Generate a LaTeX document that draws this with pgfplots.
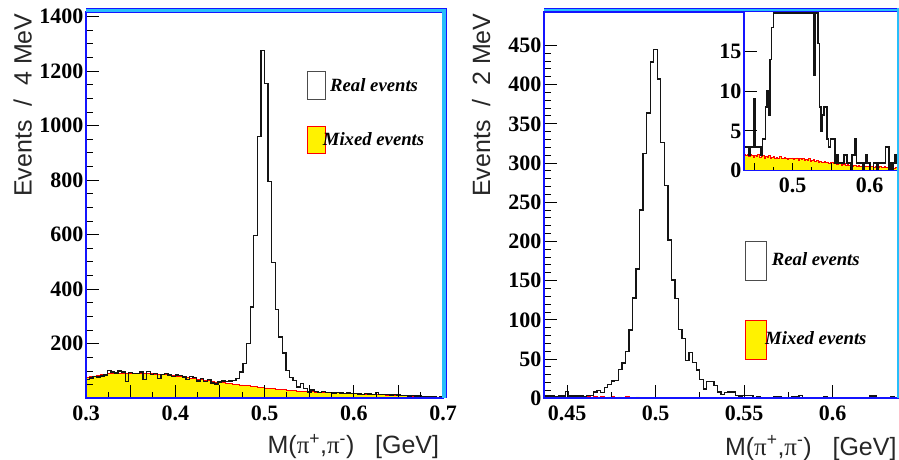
\documentclass[border=0pt]{standalone}
\usepackage{pgfplots}
\pgfplotsset{compat=1.18}
\usepackage{pgfplotstable}
\usepackage{fontspec}
\setmainfont{Liberation Serif}
\setsansfont{Liberation Sans}
\definecolor{frameblue}{RGB}{20,20,255}
\definecolor{framecyan}{RGB}{40,190,250}
\definecolor{histline}{RGB}{20,20,20}

\pgfplotstableread{
x y
0.300 68
0.304 75
0.308 80
0.312 78
0.316 82
0.320 85
0.324 102
0.328 96
0.332 93
0.336 100
0.340 96
0.344 62
0.348 95
0.352 92
0.356 90
0.360 97
0.364 70
0.368 98
0.372 88
0.376 90
0.380 72
0.384 88
0.388 92
0.392 85
0.396 80
0.400 86
0.404 83
0.408 78
0.412 70
0.416 80
0.420 76
0.424 64
0.428 72
0.432 62
0.436 68
0.440 56
0.444 52
0.448 60
0.452 63
0.456 62
0.460 64
0.464 66
0.468 72
0.472 97
0.476 127
0.480 201
0.484 335
0.488 598
0.492 959
0.496 1275
0.500 1155
0.504 794
0.508 497
0.512 326
0.516 225
0.520 166
0.524 103
0.528 76
0.532 66
0.536 42
0.540 54
0.544 36
0.548 23
0.552 30
0.556 24
0.560 22
0.564 25
0.568 21
0.572 22
0.576 20
0.580 22
0.584 19
0.588 18
0.592 20
0.596 17
0.600 18
0.604 16
0.608 15
0.612 17
0.616 16
0.620 15
0.624 22
0.628 14
0.632 15
0.636 13
0.640 12
0.644 14
0.648 12
0.652 11
0.656 10
0.660 9
0.664 10
0.668 8
0.672 9
0.676 7
0.680 6
0.684 7
0.688 5
0.692 4
0.696 5
0.700 5
}\leftreal

\pgfplotstableread{
x y
0.300 78
0.304 80
0.308 82
0.312 84
0.316 86
0.320 88
0.324 90
0.328 91
0.332 91
0.336 92
0.340 92
0.344 92
0.348 93
0.352 92
0.356 92
0.360 91
0.364 91
0.368 90
0.372 90
0.376 89
0.380 88
0.384 87
0.388 86
0.392 84
0.396 83
0.400 81
0.404 79
0.408 78
0.412 76
0.416 74
0.420 72
0.424 70
0.428 68
0.432 66
0.436 64
0.440 62
0.444 60
0.448 58
0.452 57
0.456 55
0.460 54
0.464 52
0.468 50
0.472 49
0.476 47
0.480 46
0.484 44
0.488 43
0.492 41
0.496 40
0.500 38
0.504 37
0.508 35
0.512 34
0.516 33
0.520 31
0.524 30
0.528 29
0.532 28
0.536 27
0.540 26
0.544 25
0.548 24
0.552 24
0.556 23
0.560 22
0.564 22
0.568 21
0.572 21
0.576 20
0.580 20
0.584 19
0.588 19
0.592 18
0.596 18
0.600 17
0.604 17
0.608 16
0.612 16
0.616 15
0.620 15
0.624 14
0.628 13
0.632 13
0.636 12
0.640 12
0.644 11
0.648 11
0.652 10
0.656 9
0.660 9
0.664 8
0.668 8
0.672 7
0.676 7
0.680 6
0.684 6
0.688 5
0.692 5
0.696 4
0.700 4
}\leftmixed

\pgfplotstableread{
x y
0.437 3
0.439 3
0.441 3
0.443 2
0.445 3
0.447 3
0.449 9
0.451 3
0.453 3
0.455 3
0.457 3
0.459 2
0.461 4
0.463 4
0.465 8
0.467 10
0.469 7
0.471 14
0.473 18
0.475 22
0.477 23
0.479 37
0.481 45
0.483 60
0.485 87
0.487 128
0.489 165
0.491 240
0.493 312
0.495 364
0.497 429
0.499 445
0.501 407
0.503 326
0.505 271
0.507 202
0.509 151
0.511 127
0.513 88
0.515 76
0.517 48
0.519 58
0.521 46
0.523 36
0.525 24
0.527 12
0.529 21
0.531 21
0.533 16
0.535 8
0.537 5
0.539 7
0.541 8
0.543 8
0.545 4
0.547 3
0.549 4
0.551 4
0.553 4
0.555 1
0.557 2
0.559 1
0.561 1
0.563 1
0.565 1
0.567 2
0.569 2
0.571 1
0.573 1
0.575 0
0.577 2
0.579 2
0.581 4
0.583 1
0.585 1
0.587 1
0.589 1
0.591 0
0.593 1
0.595 2
0.597 1
0.599 1
0.601 0
0.603 0
0.605 1
0.607 1
0.609 0
0.611 1
0.613 1
0.615 1
0.617 1
0.619 1
0.621 3
0.623 3
0.625 0
0.627 1
0.629 0
0.631 1
0.633 2
0.635 1
0.637 1
}\rightreal

\pgfplotstableread{
x y
0.437 2.0
0.439 1.9
0.441 2.1
0.443 1.8
0.445 2.0
0.447 1.9
0.449 1.7
0.451 1.9
0.453 1.8
0.455 2.0
0.457 1.7
0.459 1.8
0.461 1.9
0.463 1.6
0.465 1.8
0.467 1.7
0.469 1.9
0.471 1.6
0.473 1.7
0.475 1.8
0.477 1.6
0.479 1.7
0.481 1.5
0.483 1.8
0.485 1.6
0.487 1.5
0.489 1.7
0.491 1.6
0.493 1.4
0.495 1.6
0.497 1.5
0.499 1.6
0.501 1.4
0.503 1.5
0.505 1.6
0.507 1.3
0.509 1.5
0.511 1.4
0.513 1.5
0.515 1.3
0.517 1.4
0.519 1.3
0.521 1.5
0.523 1.2
0.525 1.3
0.527 1.4
0.529 1.2
0.531 1.3
0.533 1.1
0.535 1.2
0.537 1.0
0.539 1.1
0.541 1.2
0.543 1.0
0.545 1.1
0.547 0.9
0.549 1.0
0.551 1.1
0.553 0.9
0.555 0.9
0.557 0.8
0.559 0.9
0.561 0.9
0.563 0.7
0.565 0.8
0.567 0.9
0.569 0.7
0.571 0.8
0.573 0.7
0.575 0.7
0.577 0.6
0.579 0.7
0.581 0.7
0.583 0.6
0.585 0.7
0.587 0.5
0.589 0.6
0.591 0.6
0.593 0.5
0.595 0.6
0.597 0.5
0.599 0.6
0.601 0.5
0.603 0.5
0.605 0.4
0.607 0.5
0.609 0.5
0.611 0.4
0.613 0.5
0.615 0.4
0.617 0.4
0.619 0.5
0.621 0.4
0.623 0.4
0.625 0.3
0.627 0.4
0.629 0.4
0.631 0.3
0.633 0.4
0.635 0.4
0.637 0.4
}\rightmixed

\pgfplotsset{
  rootaxis/.style={
    scale only axis,
    axis on top,
    anchor=south west,
    axis background/.style={fill=white},
    axis line style={frameblue, line width=2pt},
    tick style={black, line width=1pt},
    tick pos=left,
    tick align=inside,
    major tick length=13pt,
    minor tick length=6.5pt,
    ticklabel style={font=\fontsize{22}{22}\selectfont\bfseries},
    /pgf/number format/assume math mode=true,
    xticklabel style={inner sep=0pt, yshift=-7pt},
    yticklabel style={inner sep=0pt, xshift=-2.5pt},
  },
  realstyle/.style={const plot, draw=histline, line width=1.3pt},
  mixstyle/.style={const plot, fill=yellow, draw=red, line width=0.8pt},
}

\begin{document}
\begin{tikzpicture}[x=1pt,y=1pt]
\path[use as bounding box] (0,0) rectangle (899,459);

% ---------- left panel ----------
\begin{axis}[rootaxis,
  at={(86pt,60.7pt)}, width=357pt, height=386.6pt,
  xmin=0.3, xmax=0.7, ymin=0, ymax=1418,
  xtick={0.3,0.35,0.4,0.45,0.5,0.55,0.6,0.65,0.7},
  xticklabels={0.3,,0.4,,0.5,,0.6,,0.7},
  minor x tick num=1,
  ytick={0,200,400,600,800,1000,1200,1400},
  yticklabels={,200,400,600,800,1000,1200,1400},
  minor y tick num=3,
]
\addplot[mixstyle] table[x=x,y=y]{\leftmixed} \closedcycle;
\addplot[realstyle] table[x=x,y=y]{\leftreal};
\end{axis}

% ---------- right panel ----------
\begin{axis}[rootaxis,
  at={(544pt,60.7pt)}, width=354pt, height=386.6pt,
  xmin=0.437, xmax=0.637, ymin=0, ymax=493,
  xtick={0.45,0.5,0.55,0.6},
  xticklabels={0.45,0.5,0.55,0.6},
  minor x tick num=1,
  ytick={0,50,100,150,200,250,300,350,400,450},
  yticklabels={0,50,100,150,200,250,300,350,400,450},
  minor y tick num=4,
]
\addplot[mixstyle] table[x=x,y=y]{\rightmixed} \closedcycle;
\addplot[realstyle] table[x=x,y=y]{\rightreal};
\end{axis}

% ---------- inset ----------
\begin{axis}[rootaxis,
  at={(744pt,288.3pt)}, width=154pt, height=159pt,
  axis line style={frameblue, line width=1.5pt},
  xmin=0.437, xmax=0.637, ymin=0, ymax=20,
  xtick={0.45,0.5,0.55,0.6},
  xticklabels={,0.5,,0.6},
  minor x tick num=1,
  xtick style={/pgfplots/major tick length=8pt, /pgfplots/minor tick length=4pt},
  ytick={0,5,10,15},
  yticklabels={0,5,10,15},
]
\addplot[mixstyle] table[x=x,y=y]{\rightmixed} \closedcycle;
\addplot[const plot, draw=histline, line width=1.5pt, y filter/.expression={min(y,19.85)}] table[x=x,y=y]{\rightreal};
\end{axis}

% ---------- frame bevels ----------
\fill[framecyan] (86,447.3) rectangle (446,451);
\fill[framecyan] (442.2,60.7) rectangle (446,451);
\draw[frameblue, line width=0.6pt] (86,451) -- (446,451) -- (446,60.7);
\fill[framecyan] (544,448.2) rectangle (900,451);
\draw[frameblue, line width=0.6pt] (544,451) -- (900,451);
\fill[framecyan] (897.3,60.7) rectangle (900,451);

% ---------- legends ----------
\draw[black!70, line width=0.8pt, fill=white] (307.3,360) rectangle (325.3,387.3);
\draw[red, line width=0.8pt, fill=yellow] (307.3,305.7) rectangle (325.3,333);
\node[anchor=base west, inner sep=0pt, font=\fontsize{18.7}{18.7}\selectfont\bfseries\itshape] at (330,368) {Real events};
\node[anchor=base west, inner sep=0pt, font=\fontsize{18.7}{18.7}\selectfont\bfseries\itshape] at (322.7,313.3) {Mixed events};

\draw[black!70, line width=0.8pt, fill=white] (745,178.3) rectangle (766.7,217.3);
\draw[red, line width=0.8pt, fill=yellow] (745,100) rectangle (766.7,139);
\node[anchor=base west, inner sep=0pt, font=\fontsize{18.7}{18.7}\selectfont\bfseries\itshape] at (771.7,194) {Real events};
\node[anchor=base west, inner sep=0pt, font=\fontsize{18.7}{18.7}\selectfont\bfseries\itshape] at (765,115) {Mixed events};

% ---------- axis titles ----------
\node[rotate=90, anchor=base east, inner sep=0pt, text=black!85, font=\sffamily\fontsize{25}{25}\selectfont] at (31.7,445.7) {Events\ \ /\ \ 4 MeV};
\node[rotate=90, anchor=base east, inner sep=0pt, text=black!85, font=\sffamily\fontsize{25}{25}\selectfont] at (490,445.7) {Events\ \ /\ \ 2 MeV};
\node[anchor=base east, inner sep=0pt, text=black!85, font=\sffamily\fontsize{25}{25}\selectfont] at (439.3,5.7) {M({\rmfamily π}\textsuperscript{+},{\rmfamily π}\textsuperscript{-})\ \ \ [GeV]};
\node[anchor=base east, inner sep=0pt, text=black!85, font=\sffamily\fontsize{25}{25}\selectfont] at (896.7,4) {M({\rmfamily π}\textsuperscript{+},{\rmfamily π}\textsuperscript{-})\ \ \ [GeV]};
\end{tikzpicture}
\end{document}
